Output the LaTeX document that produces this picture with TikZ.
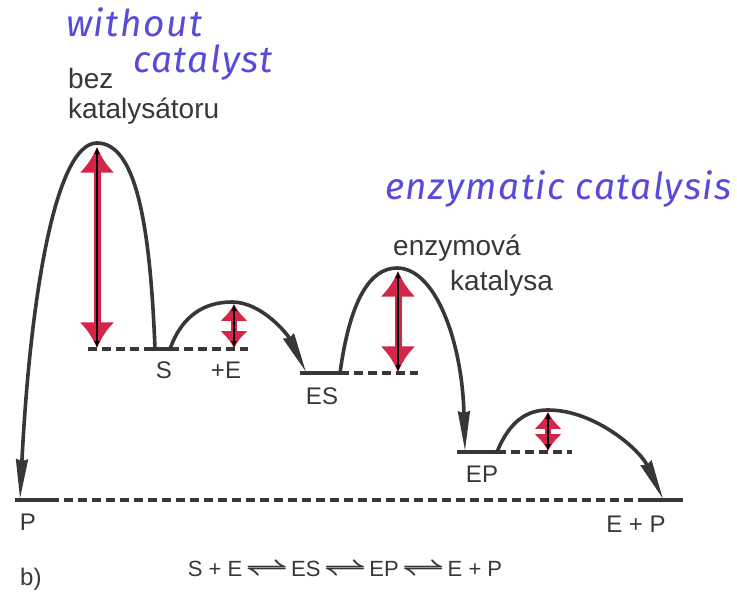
\documentclass[tikz,border=0pt]{standalone}
\usepackage{fontspec}
\usepackage{amsmath}
\setmainfont{Liberation Sans}
\newfontfamily\handfont{Fira Sans}[LetterSpace=4]
\usetikzlibrary{arrows.meta}
\definecolor{ink}{RGB}{55,55,55}
\definecolor{redc}{RGB}{212,38,72}
\definecolor{bluec}{RGB}{88,74,218}
\newcommand{\hrp}{\hspace{3pt}\scalebox{1.8}[1.25]{$\boldsymbol{\rightleftharpoons}$}\hspace{3pt}}
\begin{document}
\begin{tikzpicture}[x=1pt,y=-1pt,
  curve/.style={draw=ink, line width=3.6pt, line cap=round},
  curvearr/.style={curve, -{Stealth[length=22pt,width=6.5pt,inset=1pt,scale=1.8]}},
  lvl/.style={draw=ink, line width=3.6pt},
  dsh/.style={draw=ink, line width=3.2pt, dash pattern=on 9pt off 5pt},
  redarr/.style={draw=redc, line width=7pt, {Latex[length=16pt,width=22pt,scale=1.6]}-{Latex[length=16pt,width=22pt,scale=1.6]}},
  redarrs/.style={draw=redc, line width=6pt, {Latex[length=12pt,width=20pt,scale=1.4]}-{Latex[length=12pt,width=20pt,scale=1.4]}},
  blkarr/.style={draw=black, line width=1.6pt, {Latex[length=7pt,width=6pt]}-{Latex[length=7pt,width=6pt]}},
  lab/.style={inner sep=0pt, text=ink, font=\fontsize{28}{30}\selectfont},
  sml/.style={inner sep=0pt, text=ink, font=\fontsize{24}{26}\selectfont},
  hand/.style={inner sep=0pt, text=bluec, font=\handfont\itshape\fontsize{37}{40}\selectfont}
]
\useasboundingbox (0,0) rectangle (737,597);

% levels
\coordinate (P0) at (15,500);
\coordinate (P1) at (50,500);
\coordinate (Q0) at (640,500);
\coordinate (Q1) at (683,500);
\draw[lvl] (P0) -- (P1);
\draw[dsh] (P1) -- (Q0);
\draw[lvl] (Q0) -- (Q1);

\coordinate (S0) at (88,349);
\coordinate (S1) at (148,349);
\coordinate (S2) at (170,349);
\coordinate (S3) at (248,349);
\draw[dsh] (S0) -- (S1);
\draw[lvl] (S1) -- (S2);
\draw[dsh] (S2) -- (S3);

\coordinate (ES1) at (300,373);
\coordinate (ES2) at (340,373);
\coordinate (ES3) at (418,373);
\draw[lvl] (ES1) -- (ES2);
\draw[dsh] (ES2) -- (ES3);

\coordinate (EP1) at (457,452);
\coordinate (EP2) at (497,452);
\coordinate (EP3) at (572,452);
\draw[lvl] (EP1) -- (EP2);
\draw[dsh] (EP2) -- (EP3);

% humps
\coordinate (T1) at (97,143);
\coordinate (T2) at (232,302);
\coordinate (T3) at (397,268);
\coordinate (T4) at (548,410);
\coordinate (Pend) at (20,499);
\coordinate (Sst) at (155,349);
\coordinate (ESend) at (306,372);
\coordinate (EPend) at (465,451);
\coordinate (EPPend) at (663,499);

\draw[curvearr] (Sst) .. controls (150,220) and (135,143) .. (T1)
  .. controls (55,143) and (30,300) .. (Pend);
\draw[curvearr] (S2) .. controls (182,315) and (205,302) .. (T2)
  .. controls (262,302) and (288,335) .. (ESend);
\draw[curvearr] (ES2) .. controls (350,300) and (370,268) .. (T3)
  .. controls (435,268) and (462,340) .. (EPend);
\draw[curvearr] (EP2) .. controls (510,420) and (528,410) .. (T4)
  .. controls (595,410) and (640,450) .. (EPPend);

% red arrows
\coordinate (R1a) at (97,147);
\coordinate (R1b) at (97,348);
\coordinate (R2a) at (234,304);
\coordinate (R2b) at (234,348);
\coordinate (R3a) at (398,271);
\coordinate (R3b) at (398,372);
\coordinate (R4a) at (548,412);
\coordinate (R4b) at (548,451);
\foreach \a/\b in {R1a/R1b,R3a/R3b}{
  \draw[redarr] (\a) -- (\b);
  \draw[blkarr] (\a) -- (\b);
}
\foreach \a/\b in {R2a/R2b,R4a/R4b}{
  \draw[redarrs] (\a) -- (\b);
  \draw[blkarr] (\a) -- (\b);
}

% labels
\node[hand, anchor=base west] (w1) at (66,36) {without};
\node[hand, anchor=base west] (w2) at (133,72) {catalyst};
\node[lab, anchor=base west] (bez) at (68,88) {bez};
\node[lab, anchor=base west] (kat) at (68,118) {katalysátoru};
\node[hand, anchor=base west] (enz) at (385,199) {enzymatic catalysis};
\node[lab, anchor=base west] (ezv) at (393,255) {enzymová};
\node[lab, anchor=base west] (kts) at (450,290) {katalysa};

\node[sml, anchor=base] (lS) at (164,378) {S};
\node[sml, anchor=base] (lE) at (226,378) {+E};
\node[sml, anchor=base] (lES) at (322,404) {ES};
\node[sml, anchor=base] (lEP) at (482,482) {EP};
\node[sml, anchor=base] (lP) at (28,530) {P};
\node[sml, anchor=base] (lEP2) at (636,532) {E + P};
\node[sml, anchor=base, font=\fontsize{22}{24}\selectfont] (eq) at (345,576) {S + E\hrp ES\hrp EP\hrp E + P};
\node[sml, anchor=base west] (b) at (20,585) {b)};
\end{tikzpicture}
\end{document}
